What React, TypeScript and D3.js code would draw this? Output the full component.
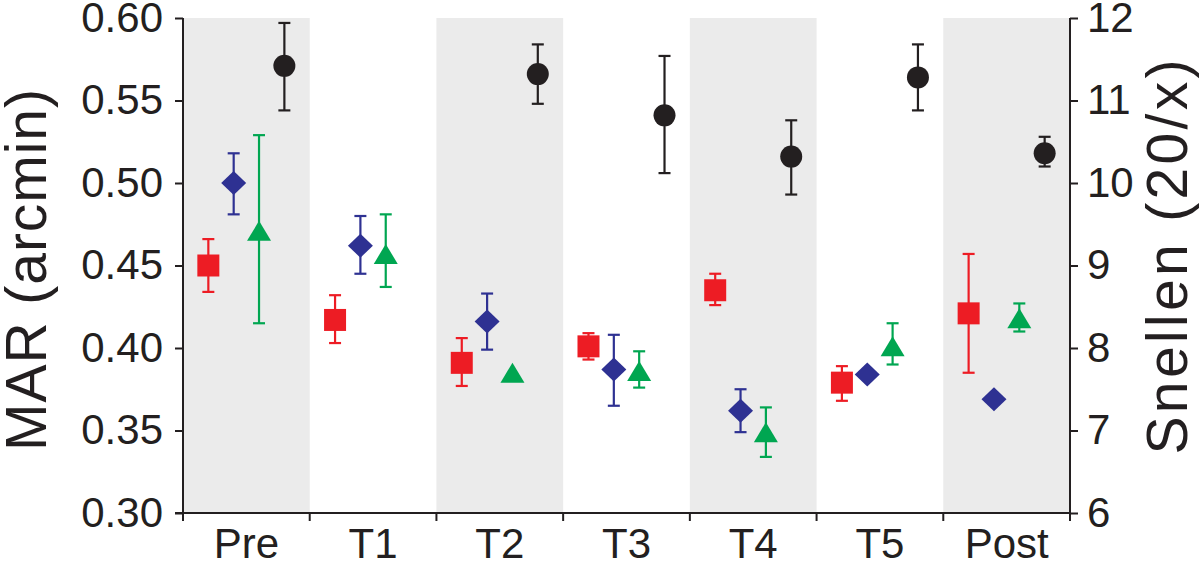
import React, { useEffect, useRef } from 'react';
import * as d3 from 'd3';

const categories = ['Pre', 'T1', 'T2', 'T3', 'T4', 'T5', 'Post'];
const shaded = ['Pre', 'T2', 'T4', 'Post'];

// red squares
const redMean = [0.450, 0.417, 0.391, 0.401, 0.435, 0.379, 0.421];
const redHi = [0.466, 0.432, 0.406, 0.409, 0.445, 0.389, 0.457];
const redLo = [0.434, 0.403, 0.377, 0.393, 0.426, 0.368, 0.385];

// blue diamonds
const blueMean = [0.500, 0.462, 0.416, 0.387, 0.362, 0.384, 0.369];
const blueHi = [0.518, 0.480, 0.433, 0.408, 0.375, null, null];
const blueLo = [0.481, 0.445, 0.399, 0.365, 0.349, null, null];

// green triangles
const greenMean = [0.471, 0.457, 0.385, 0.386, 0.349, 0.401, 0.418];
const greenHi = [0.529, 0.481, null, 0.398, 0.364, 0.415, 0.427];
const greenLo = [0.415, 0.437, null, 0.376, 0.334, 0.390, 0.410];

// black circles
const blackMean = [0.571, null, 0.566, 0.541, 0.516, 0.564, 0.518];
const blackHi = [0.597, null, 0.584, 0.577, 0.538, 0.584, 0.528];
const blackLo = [0.544, null, 0.548, 0.506, 0.493, 0.544, 0.510];

const marTicks = [0.30, 0.35, 0.40, 0.45, 0.50, 0.55, 0.60];
const snellenTicks = [6, 7, 8, 9, 10, 11, 12];

const series = [
    { name: 'red', color: '#ed1c24', shape: 'square', pos: 0.2, mean: redMean, hi: redHi, lo: redLo },
    { name: 'blue', color: '#2e3192', shape: 'diamond', pos: 0.4, mean: blueMean, hi: blueHi, lo: blueLo },
    { name: 'green', color: '#00a651', shape: 'triangle', pos: 0.6, mean: greenMean, hi: greenHi, lo: greenLo },
    { name: 'black', color: '#231f20', shape: 'circle', pos: 0.8, mean: blackMean, hi: blackHi, lo: blackLo },
];

function shapePath(shape, x, y) {
    if (shape === 'square') {
        const s = 11;
        return `M${x - s},${y - s}H${x + s}V${y + s}H${x - s}Z`;
    }
    if (shape === 'diamond') {
        const w = 12.5, h = 12;
        return `M${x},${y - h}L${x + w},${y}L${x},${y + h}L${x - w},${y}Z`;
    }
    // triangle
    const w = 12, h = 10;
    return `M${x},${y - h}L${x + w},${y + h}L${x - w},${y + h}Z`;
}

export default function App() {
    const ref = useRef(null);

    useEffect(() => {
        const svg = d3.select(ref.current);
        svg.selectAll('*').remove();

        const left = 183, right = 1070, top = 18, bottom = 513;
        const ink = '#231f20';
        const font = 'Liberation Sans, Arial, Helvetica, sans-serif';

        const x = d3.scaleBand().domain(categories).range([left, right]).padding(0);
        const y = d3.scaleLinear().domain([0.30, 0.60]).range([bottom, top]);
        const y2 = d3.scaleLinear().domain([6, 12]).range([bottom, top]);

        // shaded bands
        svg.append('g').selectAll('rect')
            .data(shaded)
            .join('rect')
            .attr('x', d => x(d))
            .attr('y', top)
            .attr('width', x.bandwidth())
            .attr('height', bottom - top)
            .attr('fill', '#ebebeb');

        // error bars
        const eb = svg.append('g');
        series.forEach(s => {
            categories.forEach((c, i) => {
                if (s.mean[i] == null || s.hi[i] == null) return;
                const cx = x(c) + x.bandwidth() * s.pos;
                const g = eb.append('g').attr('stroke', s.color).attr('stroke-width', 2.2).attr('fill', 'none');
                g.append('line').attr('x1', cx).attr('x2', cx).attr('y1', y(s.hi[i])).attr('y2', y(s.lo[i]));
                g.append('line').attr('x1', cx - 6).attr('x2', cx + 6).attr('y1', y(s.hi[i])).attr('y2', y(s.hi[i]));
                g.append('line').attr('x1', cx - 6).attr('x2', cx + 6).attr('y1', y(s.lo[i])).attr('y2', y(s.lo[i]));
            });
        });

        // markers
        const mk = svg.append('g');
        series.forEach(s => {
            categories.forEach((c, i) => {
                if (s.mean[i] == null) return;
                const cx = x(c) + x.bandwidth() * s.pos;
                const cy = y(s.mean[i]);
                if (s.shape === 'circle') {
                    mk.append('circle').attr('cx', cx).attr('cy', cy).attr('r', 11).attr('fill', s.color);
                } else {
                    mk.append('path').attr('d', shapePath(s.shape, cx, cy)).attr('fill', s.color);
                }
            });
        });

        // left axis
        const gl = svg.append('g')
            .attr('transform', `translate(${left},0)`)
            .call(d3.axisLeft(y).tickValues(marTicks).tickFormat(d3.format('.2f')).tickSize(8).tickPadding(12));
        // bottom axis (labels only, ticks sit on band edges)
        const gb = svg.append('g')
            .attr('transform', `translate(0,${bottom})`)
            .call(d3.axisBottom(x).tickSize(0).tickPadding(15));
        svg.append('g').attr('transform', `translate(0,${bottom})`)
            .selectAll('line')
            .data(categories.map(c => x(c)).concat([right]))
            .join('line')
            .attr('x1', d => d).attr('x2', d => d)
            .attr('y1', 0).attr('y2', 8)
            .attr('stroke', ink).attr('stroke-width', 2);
        // right axis
        const gr = svg.append('g')
            .attr('transform', `translate(${right},0)`)
            .call(d3.axisRight(y2).tickValues(snellenTicks).tickFormat(d3.format('d')).tickSize(8).tickPadding(9));

        [gl, gb, gr].forEach(g => {
            g.select('.domain').attr('stroke', ink).attr('stroke-width', 2);
            g.selectAll('.tick line').attr('stroke', ink).attr('stroke-width', 2);
            g.selectAll('.tick text').attr('fill', ink).style('font-family', font).style('font-size', '42px');
        });
        gb.select('.domain').attr('d', `M${left - 8},0H${right}`);
        gl.select('.domain').attr('d', `M0,${top}V${bottom}`);
        gr.select('.domain').attr('d', `M0,${top}V${bottom}`);

        // axis titles
        svg.append('text')
            .attr('transform', `translate(46,270) rotate(-90)`)
            .attr('text-anchor', 'middle')
            .attr('fill', ink)
            .style('font-family', font)
            .style('font-size', '57px')
            .attr('textLength', 362)
            .attr('lengthAdjust', 'spacing')
            .text('MAR (arcmin)');
        svg.append('text')
            .attr('transform', `translate(1187,257) rotate(-90)`)
            .attr('text-anchor', 'middle')
            .attr('fill', ink)
            .style('font-family', font)
            .style('font-size', '57px')
            .attr('textLength', 395)
            .attr('lengthAdjust', 'spacing')
            .text('Snellen (20/x)');
    }, []);

    return (
        <svg ref={ref} width={1200} height={563}
            style={{ position: 'absolute', left: 0, top: 0, background: '#fff' }} />
    );
}
